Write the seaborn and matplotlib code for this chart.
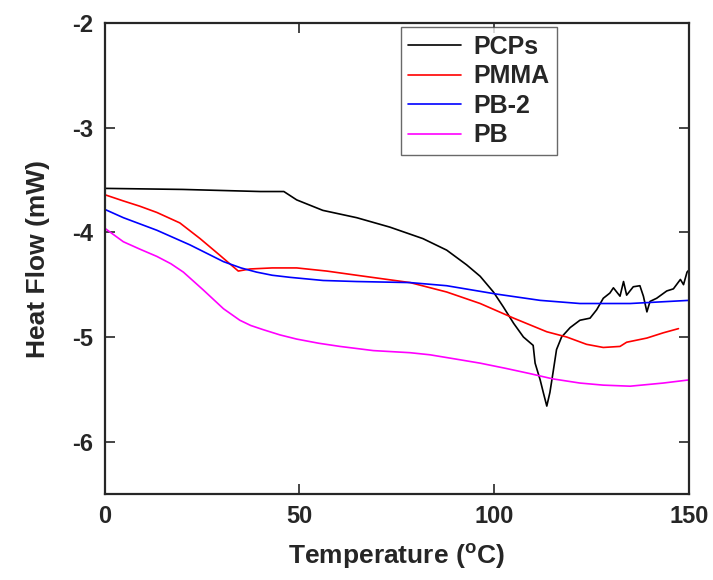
import pandas as pd
import matplotlib.pyplot as plt
import seaborn as sns
import numpy as np

# values
pcps_t = [0, 20, 40, 46, 49.3, 56, 64.7, 73.2, 81.7, 87.8, 92.9, 96.4, 99.8, 102.3, 105,
          107.5, 110, 110.5, 111.8, 112.6, 113.5, 114.3, 115.1, 116, 117.3, 119.5, 122,
          124.6, 126.3, 128, 129.7, 130.6, 132.3, 133.2, 134, 135.7, 137.4, 138.3, 139.2,
          140, 141.7, 144.3, 146, 147.8, 148.6, 149.5, 150]
pcps_hf = [-3.58, -3.59, -3.61, -3.61, -3.69, -3.79, -3.86, -3.95, -4.06, -4.17, -4.31, -4.42,
           -4.57, -4.71, -4.87, -5.0, -5.08, -5.25, -5.41, -5.53, -5.66, -5.53, -5.34, -5.12,
           -5.0, -4.91, -4.84, -4.82, -4.74, -4.63, -4.58, -4.53, -4.61, -4.47, -4.6, -4.52,
           -4.51, -4.61, -4.76, -4.66, -4.63, -4.56, -4.54, -4.45, -4.5, -4.38, -4.36]

pmma_t = [0, 4.8, 9, 13.4, 19.3, 24.5, 29.6, 34.3, 37.3, 43, 49.3, 57, 64.7, 78.4, 87.8, 96.4,
          105, 113.5, 118.6, 123.7, 128, 132.3, 134, 139.2, 143.4, 147.3]
pmma_hf = [-3.64, -3.70, -3.75, -3.81, -3.91, -4.06, -4.22, -4.37, -4.35, -4.34, -4.34, -4.37,
           -4.41, -4.48, -4.57, -4.68, -4.82, -4.95, -5.0, -5.07, -5.10, -5.09, -5.05, -5.01,
           -4.96, -4.92]

pb2_t = [0, 4.8, 13.4, 21.9, 30.5, 35, 39, 43, 47.6, 56.1, 64.7, 78.4, 87.8, 100.6, 111.8, 122,
         134.9, 150]
pb2_hf = [-3.78, -3.86, -3.98, -4.12, -4.28, -4.34, -4.38, -4.41, -4.43, -4.46, -4.47, -4.48,
          -4.51, -4.59, -4.65, -4.68, -4.68, -4.65]

pb_t = [0, 4.8, 9, 13.4, 17, 20.2, 25.3, 30.5, 34.7, 37.5, 40.7, 45, 49.3, 55, 60.4, 69, 78.4,
        83.5, 90, 96.4, 103, 109.2, 115, 122, 128, 134.9, 143.4, 150]
pb_hf = [-3.96, -4.09, -4.16, -4.23, -4.30, -4.38, -4.55, -4.73, -4.84, -4.89, -4.93, -4.98,
         -5.02, -5.06, -5.09, -5.13, -5.15, -5.17, -5.21, -5.25, -5.30, -5.35, -5.40, -5.44,
         -5.46, -5.47, -5.44, -5.41]

names = ["PCPs", "PMMA", "PB-2", "PB"]
colors = ["black", "red", "blue", "magenta"]

frames = []
for name, t, hf in zip(names, [pcps_t, pmma_t, pb2_t, pb_t], [pcps_hf, pmma_hf, pb2_hf, pb_hf]):
    frames.append(pd.DataFrame({"T": t, "HF": hf, "sample": name}))
df = pd.concat(frames, ignore_index=True)

sns.set_style("ticks")
plt.rcParams['font.family'] = ['Liberation Sans', 'DejaVu Sans']
plt.rcParams['font.weight'] = 'bold'
plt.rcParams['axes.unicode_minus'] = False

fig = plt.figure(figsize=(7.13, 5.8), dpi=100)
ax = fig.add_axes([0.1468, 0.1483, 0.8195, 0.812])

sns.lineplot(data=df, x="T", y="HF", hue="sample", palette=colors, hue_order=names,
             sort=False, estimator=None, linewidth=1.2, ax=ax)

ax.set_xlim(0, 150)
ax.set_ylim(-6.5, -2)
ax.set_xticks([0, 50, 100, 150])
ax.set_yticks([-6, -5, -4, -3, -2])
ax.tick_params(direction="in", length=7, width=1.2, labelsize=17, top=True, right=True, pad=8)
for lab in ax.get_xticklabels() + ax.get_yticklabels():
    lab.set_fontweight("bold")
for sp in ax.spines.values():
    sp.set_linewidth(1.6)

ax.set_xlabel("Temperature ($\\mathregular{^oC}$)", fontsize=19, fontweight="bold", labelpad=10)
ax.set_ylabel("Heat Flow (mW)", fontsize=19, fontweight="bold", labelpad=16)

leg = ax.legend(loc="upper left", bbox_to_anchor=(0.507, 0.991), fontsize=18, frameon=True,
                fancybox=False, edgecolor="#444444", handlelength=2.1, labelspacing=0.22,
                borderpad=0.3, handletextpad=0.5, borderaxespad=0)
leg.get_frame().set_linewidth(1.0)
for txt in leg.get_texts():
    txt.set_fontweight("bold")

fig.savefig("out.png", dpi=100)
